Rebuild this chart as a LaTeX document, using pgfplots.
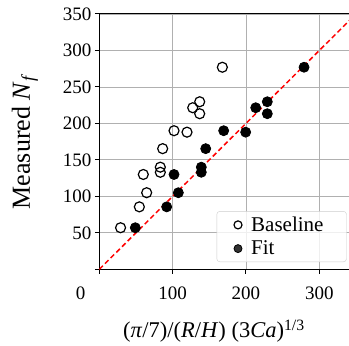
\documentclass[border=0pt]{standalone}
\usepackage{fontspec}
\setmainfont{Liberation Serif}
\usepackage{pgfplots}
\pgfplotsset{compat=1.18}
\definecolor{gridgray}{RGB}{176,176,176}
\definecolor{legframe}{RGB}{204,204,204}
\pgfplotsset{mylegend/.style={legend image code/.code={\path (0bp,0bp) (18bp,0bp);\draw[##1, mark size=4bp] plot coordinates {(9bp,0bp)};}}}
\begin{document}
\begin{tikzpicture}
\begin{axis}[
  scale only axis, width=253bp, height=255.3bp,
  xmin=0, xmax=345, ymin=0, ymax=350,
  xtick={0,100,200,300},
  xticklabels={{\makebox[0pt][r]{0\hspace*{14bp}}},100,200,300},
  ytick={0,50,100,150,200,250,300,350},
  yticklabels={{},50,100,150,200,250,300,350},
  tick align=outside, major tick length=4.5bp,
  xtick pos=left, ytick pos=left,
  grid=major,
  major grid style={color=gridgray, line width=0.8bp},
  axis line style={line width=1bp, black},
  tick style={black, line width=1bp},
  ticklabel style={font=\fontsize{19bp}{22bp}\selectfont},
  xticklabel style={yshift=-10bp},
  /pgf/number format/assume math mode=true,
  xlabel={(\textit{π}/7)/(\textit{R}/\textit{H}) (3\textit{Ca})\textsuperscript{1/3}},
  ylabel={Measured \textit{N}\textsubscript{\textit{f}}},
  xlabel style={font=\fontsize{22.5bp}{26bp}\selectfont, at={(axis description cs:0.453,-0.243)}, anchor=center},
  ylabel style={font=\fontsize{26bp}{30bp}\selectfont, at={(axis description cs:-0.294,0.5)}, anchor=center},
  legend style={at={(rel axis cs:1,0)}, anchor=south east, xshift=-5.6bp, yshift=7.3bp,
    draw=legframe, rounded corners=3bp, fill=white, fill opacity=0.8, text opacity=1,
    font=\rmfamily\fontsize{21bp}{24bp}\selectfont,
    inner xsep=12bp, inner ysep=3.5bp, column sep=2bp, row sep=4bp},
  legend cell align=left,
]
\addplot[only marks, mark=o, mark size=5bp, mark options={line width=1.2bp, black}, mylegend]
coordinates {(29,57) (54.6,85.6) (64.6,105) (60,130) (83.2,133) (83.2,140) (86.4,165.4) (101.9,190) (119.6,188) (127.4,221.5) (136.9,229.7) (136.9,213.3) (167.8,277)};
\addlegendentry{Baseline\hspace*{9bp}}
\addplot[only marks, mark=*, mark size=5bp, mark options={line width=0.8bp, black, fill=black}, mylegend]
coordinates {(49.1,57) (91.9,85.6) (107.8,105) (101.9,130) (139.1,133) (139.1,140) (145.1,165.4) (169.6,190) (199.6,188) (213.3,221.5) (229.1,229.7) (229.1,213.3) (279.2,277)};
\addlegendentry{Fit}
\addplot[forget plot, red, line width=1.5bp, dash pattern=on 5bp off 3bp] coordinates {(0,0) (350,350)};
\end{axis}
\pgfresetboundingbox
\path[use as bounding box] ([shift={(-99.3bp,-76.7bp)}]current axis.south west) rectangle ([shift={(249.7bp,269.3bp)}]current axis.south west);
\end{tikzpicture}
\end{document}
